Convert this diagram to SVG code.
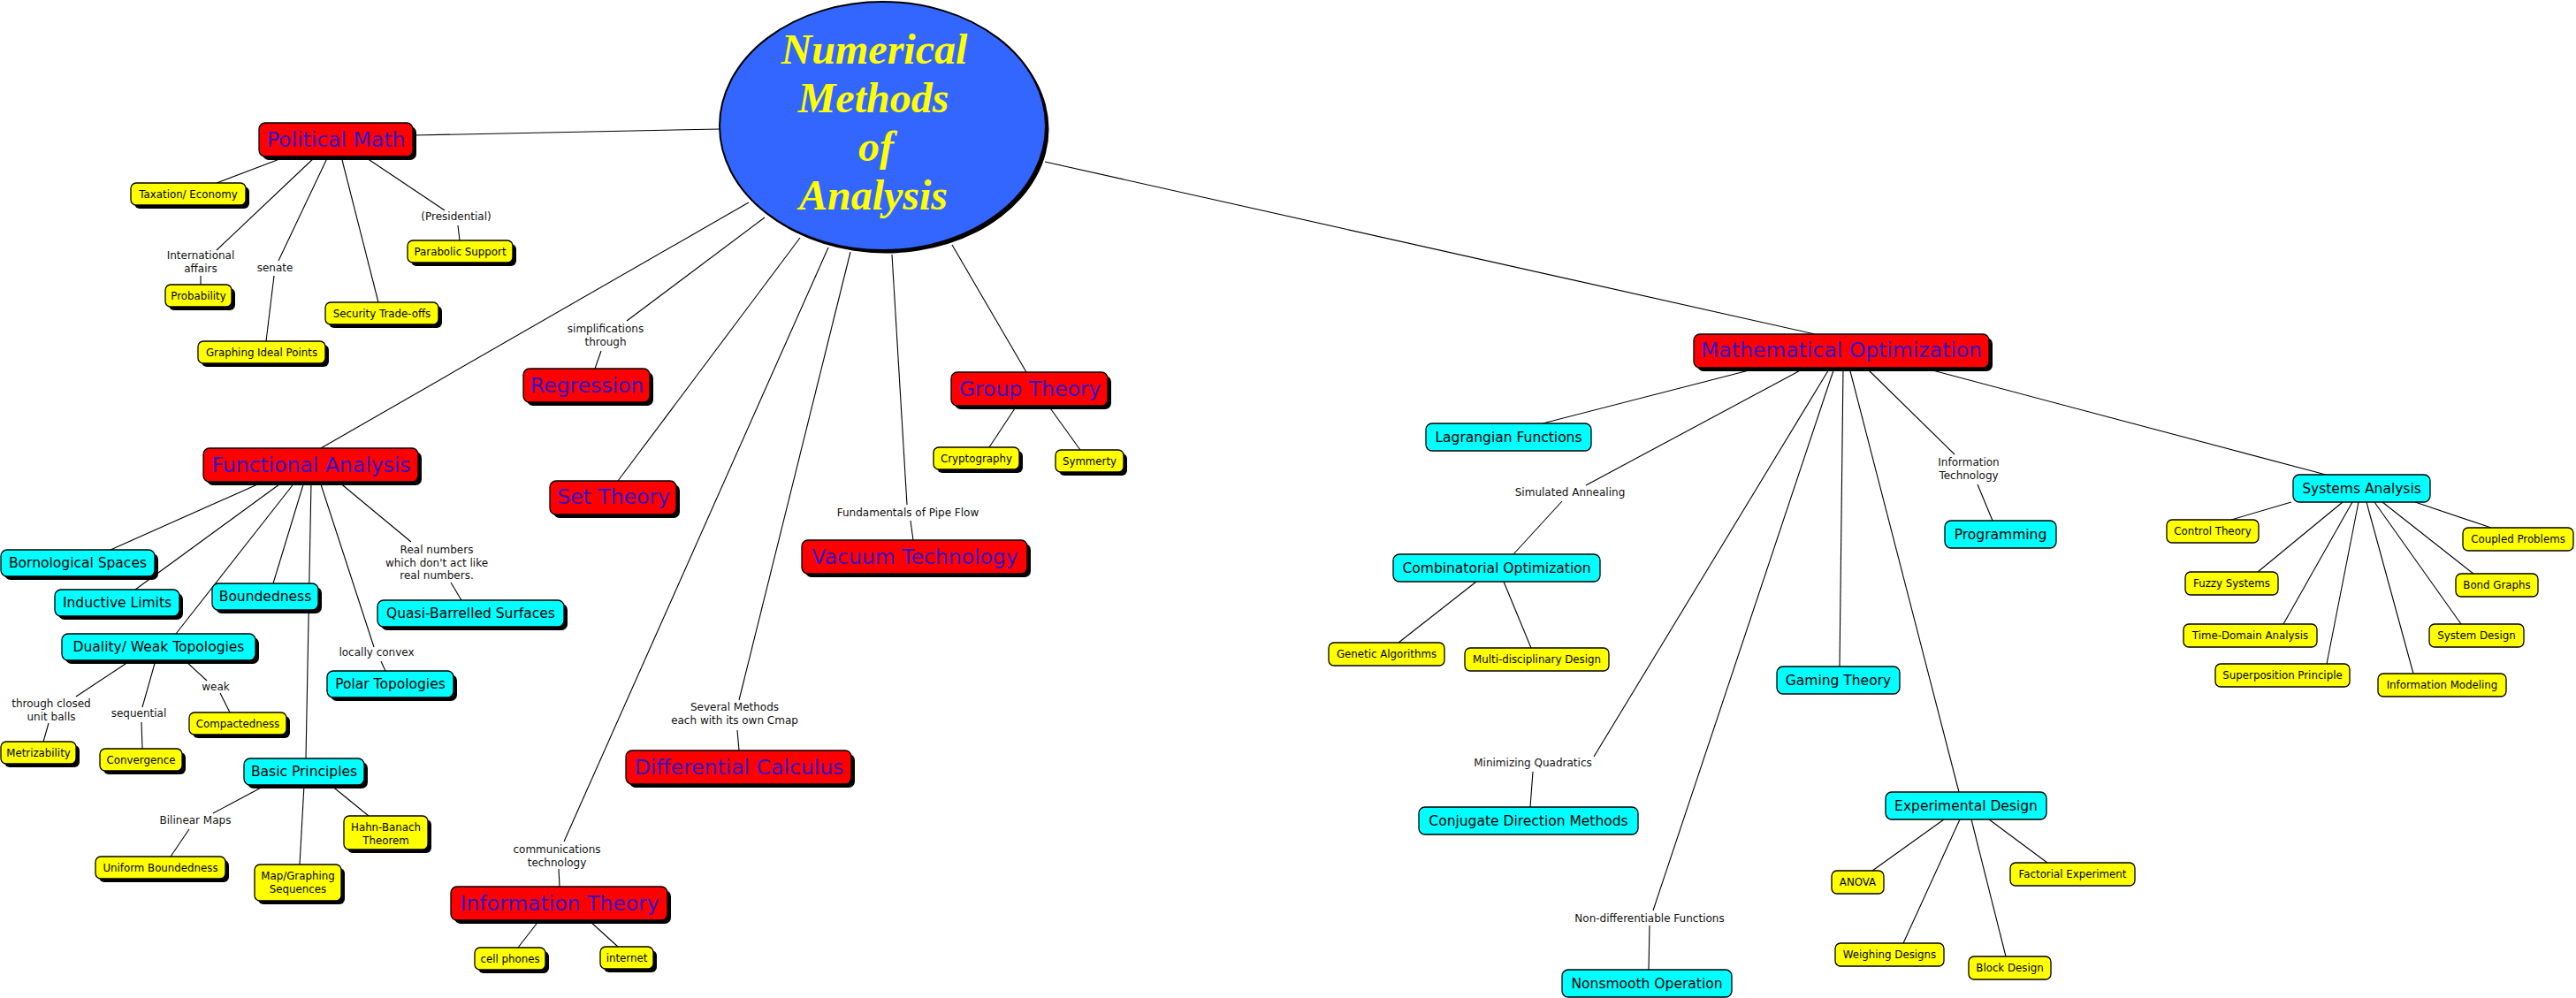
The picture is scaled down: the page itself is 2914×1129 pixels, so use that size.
<svg xmlns="http://www.w3.org/2000/svg" width="2914" height="1129" viewBox="0 0 2914 1129">
<style>
  .bg{fill:#fff}
  .sh{fill:#000}
  .r{fill:#ff0000;stroke:#000;stroke-width:1.3}
  .c{fill:#00ffff;stroke:#000;stroke-width:1.3}
  .y{fill:#ffff00;stroke:#000;stroke-width:1.3}
  text{font-family:"DejaVu Sans",Verdana,sans-serif;text-anchor:middle}
  .tr{font-size:23.5px;fill:#3311cc}
  .tc{font-size:15.5px;fill:#000}
  .ty{font-size:11.8px;fill:#000}
  .tl{font-size:12px;fill:#111}
  .tm{font-family:"Liberation Serif","Times New Roman",serif;font-weight:bold;font-style:italic;font-size:48px;fill:#ffff00}
  #connectors line{stroke:#000;stroke-width:1.1}
</style>
<rect class="bg" x="0" y="0" width="2914" height="1129"/>

<g id="connectors">
  <line x1="814" y1="146" x2="468" y2="153"/>
  <line x1="847" y1="229" x2="363" y2="507"/>
  <line x1="865" y1="246" x2="709" y2="363"/>
  <line x1="680" y1="397" x2="673" y2="417"/>
  <line x1="905" y1="269" x2="699" y2="544"/>
  <line x1="937" y1="280" x2="638" y2="952"/>
  <line x1="632" y1="983" x2="633" y2="1003"/>
  <line x1="962" y1="285" x2="836" y2="792"/>
  <line x1="834" y1="826" x2="836" y2="849"/>
  <line x1="1009" y1="288" x2="1026" y2="571"/>
  <line x1="1030" y1="589" x2="1033" y2="611"/>
  <line x1="1077" y1="277" x2="1161" y2="421"/>
  <line x1="1182" y1="183" x2="2053" y2="378"/>

  <line x1="324" y1="177" x2="245" y2="207"/>
  <line x1="357" y1="177" x2="245" y2="283"/>
  <line x1="227" y1="312" x2="227" y2="322"/>
  <line x1="371" y1="177" x2="315" y2="295"/>
  <line x1="310" y1="312" x2="301" y2="386"/>
  <line x1="386" y1="177" x2="428" y2="342"/>
  <line x1="412" y1="177" x2="503" y2="238"/>
  <line x1="518" y1="255" x2="520" y2="272"/>

  <line x1="1150" y1="459" x2="1119" y2="506"/>
  <line x1="1186" y1="459" x2="1222" y2="509"/>

  <line x1="298" y1="545" x2="125" y2="622"/>
  <line x1="320" y1="545" x2="153" y2="667"/>
  <line x1="334" y1="545" x2="199" y2="717"/>
  <line x1="344" y1="545" x2="309" y2="660"/>
  <line x1="352" y1="545" x2="346" y2="858"/>
  <line x1="362" y1="545" x2="423" y2="732"/>
  <line x1="431" y1="748" x2="436" y2="759"/>
  <line x1="383" y1="545" x2="465" y2="613"/>
  <line x1="510" y1="659" x2="522" y2="679"/>

  <line x1="148" y1="747" x2="86" y2="788"/>
  <line x1="55" y1="818" x2="49" y2="839"/>
  <line x1="176" y1="747" x2="161" y2="800"/>
  <line x1="160" y1="817" x2="161" y2="847"/>
  <line x1="209" y1="747" x2="234" y2="770"/>
  <line x1="249" y1="784" x2="260" y2="806"/>

  <line x1="301" y1="888" x2="241" y2="920"/>
  <line x1="214" y1="938" x2="193" y2="969"/>
  <line x1="344" y1="888" x2="339" y2="978"/>
  <line x1="374" y1="888" x2="417" y2="923"/>

  <line x1="610" y1="1041" x2="586" y2="1072"/>
  <line x1="666" y1="1041" x2="699" y2="1071"/>

  <line x1="1990" y1="416" x2="1745" y2="479"/>
  <line x1="2042" y1="416" x2="1794" y2="549"/>
  <line x1="1767" y1="567" x2="1712" y2="627"/>
  <line x1="1670" y1="658" x2="1582" y2="727"/>
  <line x1="1701" y1="658" x2="1732" y2="733"/>
  <line x1="2070" y1="416" x2="1803" y2="856"/>
  <line x1="1734" y1="873" x2="1731" y2="913"/>
  <line x1="2075" y1="416" x2="1870" y2="1030"/>
  <line x1="1866" y1="1047" x2="1865" y2="1097"/>
  <line x1="2085" y1="416" x2="2081" y2="754"/>
  <line x1="2092" y1="416" x2="2216" y2="896"/>
  <line x1="2111" y1="416" x2="2211" y2="514"/>
  <line x1="2237" y1="548" x2="2254" y2="589"/>
  <line x1="2175" y1="416" x2="2631" y2="537"/>

  <line x1="2199" y1="927" x2="2118" y2="985"/>
  <line x1="2217" y1="927" x2="2153" y2="1067"/>
  <line x1="2230" y1="927" x2="2269" y2="1082"/>
  <line x1="2250" y1="927" x2="2316" y2="976"/>

  <line x1="2592" y1="568" x2="2524" y2="588"/>
  <line x1="2650" y1="568" x2="2554" y2="647"/>
  <line x1="2661" y1="568" x2="2583" y2="706"/>
  <line x1="2668" y1="568" x2="2632" y2="751"/>
  <line x1="2677" y1="568" x2="2730" y2="762"/>
  <line x1="2686" y1="568" x2="2784" y2="706"/>
  <line x1="2695" y1="568" x2="2798" y2="649"/>
  <line x1="2732" y1="568" x2="2818" y2="597"/>
</g>

<g id="link-labels">
  <text class="tl" x="227" y="293">International</text>
  <text class="tl" x="227" y="308">affairs</text>
  <text class="tl" x="311" y="307">senate</text>
  <text class="tl" x="516" y="249">(Presidential)</text>
  <text class="tl" x="685" y="376">simplifications</text>
  <text class="tl" x="685" y="391">through</text>
  <text class="tl" x="494" y="626">Real numbers</text>
  <text class="tl" x="494" y="641">which don't act like</text>
  <text class="tl" x="494" y="655">real numbers.</text>
  <text class="tl" x="426" y="742">locally convex</text>
  <text class="tl" x="58" y="800">through closed</text>
  <text class="tl" x="58" y="815">unit balls</text>
  <text class="tl" x="157" y="811">sequential</text>
  <text class="tl" x="244" y="781">weak</text>
  <text class="tl" x="221" y="932">Bilinear Maps</text>
  <text class="tl" x="630" y="965">communications</text>
  <text class="tl" x="630" y="980">technology</text>
  <text class="tl" x="831" y="804">Several Methods</text>
  <text class="tl" x="831" y="819">each with its own Cmap</text>
  <text class="tl" x="1027" y="584">Fundamentals of Pipe Flow</text>
  <text class="tl" x="1776" y="561">Simulated Annealing</text>
  <text class="tl" x="2227" y="527">Information</text>
  <text class="tl" x="2227" y="542">Technology</text>
  <text class="tl" x="1734" y="867">Minimizing Quadratics</text>
  <text class="tl" x="1866" y="1043">Non-differentiable Functions</text>
</g>

<g id="n-center">
  <ellipse class="sh" cx="1002" cy="146" rx="184.5" ry="140.5"/>
  <ellipse cx="998.5" cy="142.5" rx="184.5" ry="140.5" fill="#3366ff" stroke="#000" stroke-width="2"/>
  <text class="tm" x="989" y="72">Numerical</text>
  <text class="tm" x="988" y="127">Methods</text>
  <text class="tm" x="991" y="182">of</text>
  <text class="tm" x="988" y="237">Analysis</text>
</g>

<!-- red nodes -->
<g id="n-political-math"><rect class="sh" x="297" y="143" width="174" height="38" rx="7"/><rect class="r" x="293" y="139" width="174" height="38" rx="7"/><text class="tr" x="380" y="166">Political Math</text></g>
<g id="n-functional-analysis"><rect class="sh" x="234" y="511" width="243" height="38" rx="7"/><rect class="r" x="230" y="507" width="243" height="38" rx="7"/><text class="tr" x="352" y="534">Functional Analysis</text></g>
<g id="n-regression"><rect class="sh" x="596" y="421" width="143" height="38" rx="7"/><rect class="r" x="592" y="417" width="143" height="38" rx="7"/><text class="tr" x="664" y="444">Regression</text></g>
<g id="n-set-theory"><rect class="sh" x="626" y="548" width="143" height="38" rx="7"/><rect class="r" x="622" y="544" width="143" height="38" rx="7"/><text class="tr" x="694" y="570">Set Theory</text></g>
<g id="n-group-theory"><rect class="sh" x="1080" y="425" width="177" height="38" rx="7"/><rect class="r" x="1076" y="421" width="177" height="38" rx="7"/><text class="tr" x="1165" y="448">Group Theory</text></g>
<g id="n-vacuum-technology"><rect class="sh" x="911" y="615" width="255" height="38" rx="7"/><rect class="r" x="907" y="611" width="255" height="38" rx="7"/><text class="tr" x="1035" y="638">Vacuum Technology</text></g>
<g id="n-differential-calculus"><rect class="sh" x="712" y="853" width="255" height="38" rx="7"/><rect class="r" x="708" y="849" width="255" height="38" rx="7"/><text class="tr" x="836" y="876">Differential Calculus</text></g>
<g id="n-information-theory"><rect class="sh" x="514" y="1007" width="245" height="38" rx="7"/><rect class="r" x="510" y="1003" width="245" height="38" rx="7"/><text class="tr" x="633" y="1030">Information Theory</text></g>
<g id="n-mathematical-optimization"><rect class="sh" x="1920" y="382" width="334" height="38" rx="7"/><rect class="r" x="1916" y="378" width="334" height="38" rx="7"/><text class="tr" x="2083" y="404">Mathematical Optimization</text></g>

<!-- cyan nodes with shadow -->
<g id="n-bornological-spaces"><rect class="sh" x="5" y="626" width="174" height="30" rx="7"/><rect class="c" x="1" y="622" width="174" height="30" rx="7"/><text class="tc" x="88" y="642">Bornological Spaces</text></g>
<g id="n-inductive-limits"><rect class="sh" x="66" y="671" width="141" height="30" rx="7"/><rect class="c" x="62" y="667" width="141" height="30" rx="7"/><text class="tc" x="132.5" y="687">Inductive Limits</text></g>
<g id="n-boundedness"><rect class="sh" x="244" y="664" width="120" height="30" rx="7"/><rect class="c" x="240" y="660" width="120" height="30" rx="7"/><text class="tc" x="300" y="680">Boundedness</text></g>
<g id="n-duality"><rect class="sh" x="74" y="721" width="219" height="30" rx="7"/><rect class="c" x="70" y="717" width="219" height="30" rx="7"/><text class="tc" x="179.5" y="737">Duality/ Weak Topologies</text></g>
<g id="n-quasi-barrelled"><rect class="sh" x="431" y="683" width="211" height="30" rx="7"/><rect class="c" x="427" y="679" width="211" height="30" rx="7"/><text class="tc" x="532.5" y="699">Quasi-Barrelled Surfaces</text></g>
<g id="n-polar-topologies"><rect class="sh" x="374" y="763" width="143" height="30" rx="7"/><rect class="c" x="370" y="759" width="143" height="30" rx="7"/><text class="tc" x="441.5" y="779">Polar Topologies</text></g>
<g id="n-basic-principles"><rect class="sh" x="280" y="862" width="136" height="30" rx="7"/><rect class="c" x="276" y="858" width="136" height="30" rx="7"/><text class="tc" x="344" y="878">Basic Principles</text></g>

<!-- cyan nodes without shadow -->
<g id="n-lagrangian"><rect class="c" x="1613" y="479" width="187" height="31" rx="7"/><text class="tc" x="1706.5" y="500">Lagrangian Functions</text></g>
<g id="n-combinatorial"><rect class="c" x="1576" y="627" width="234" height="31" rx="7"/><text class="tc" x="1693" y="648">Combinatorial Optimization</text></g>
<g id="n-programming"><rect class="c" x="2200" y="589" width="126" height="31" rx="7"/><text class="tc" x="2263" y="610">Programming</text></g>
<g id="n-gaming-theory"><rect class="c" x="2010" y="754" width="139" height="31" rx="7"/><text class="tc" x="2079.5" y="775">Gaming Theory</text></g>
<g id="n-conjugate"><rect class="c" x="1605" y="913" width="248" height="31" rx="7"/><text class="tc" x="1729" y="934">Conjugate Direction Methods</text></g>
<g id="n-nonsmooth"><rect class="c" x="1767" y="1097" width="192" height="31" rx="7"/><text class="tc" x="1863" y="1118">Nonsmooth Operation</text></g>
<g id="n-experimental-design"><rect class="c" x="2133" y="896" width="182" height="31" rx="7"/><text class="tc" x="2224" y="917">Experimental Design</text></g>
<g id="n-systems-analysis"><rect class="c" x="2594" y="537" width="155" height="31" rx="7"/><text class="tc" x="2671.5" y="558">Systems Analysis</text></g>

<!-- yellow nodes with shadow -->
<g id="n-taxation"><rect class="sh" x="152" y="211" width="130" height="25" rx="6"/><rect class="y" x="148" y="207" width="130" height="25" rx="6"/><text class="ty" x="213" y="224">Taxation/ Economy</text></g>
<g id="n-probability"><rect class="sh" x="191" y="326" width="75" height="25" rx="6"/><rect class="y" x="187" y="322" width="75" height="25" rx="6"/><text class="ty" x="224.5" y="339">Probability</text></g>
<g id="n-graphing-ideal"><rect class="sh" x="228" y="390" width="144" height="25" rx="6"/><rect class="y" x="224" y="386" width="144" height="25" rx="6"/><text class="ty" x="296" y="403">Graphing Ideal Points</text></g>
<g id="n-security"><rect class="sh" x="372" y="346" width="128" height="25" rx="6"/><rect class="y" x="368" y="342" width="128" height="25" rx="6"/><text class="ty" x="432" y="359">Security Trade-offs</text></g>
<g id="n-parabolic"><rect class="sh" x="465" y="276" width="119" height="25" rx="6"/><rect class="y" x="461" y="272" width="119" height="25" rx="6"/><text class="ty" x="520.5" y="289">Parabolic Support</text></g>
<g id="n-metrizability"><rect class="sh" x="5" y="843" width="85" height="25" rx="6"/><rect class="y" x="1" y="839" width="85" height="25" rx="6"/><text class="ty" x="43.5" y="856">Metrizability</text></g>
<g id="n-convergence"><rect class="sh" x="117" y="851" width="93" height="25" rx="6"/><rect class="y" x="113" y="847" width="93" height="25" rx="6"/><text class="ty" x="159.5" y="864">Convergence</text></g>
<g id="n-compactedness"><rect class="sh" x="218" y="810" width="110" height="25" rx="6"/><rect class="y" x="214" y="806" width="110" height="25" rx="6"/><text class="ty" x="269" y="823">Compactedness</text></g>
<g id="n-uniform-boundedness"><rect class="sh" x="112" y="973" width="147" height="25" rx="6"/><rect class="y" x="108" y="969" width="147" height="25" rx="6"/><text class="ty" x="181.5" y="986">Uniform Boundedness</text></g>
<g id="n-map-graphing"><rect class="sh" x="292" y="982" width="98" height="41" rx="6"/><rect class="y" x="288" y="978" width="98" height="41" rx="6"/><text class="ty" x="337" y="995">Map/Graphing</text><text class="ty" x="337" y="1010">Sequences</text></g>
<g id="n-hahn-banach"><rect class="sh" x="393" y="927" width="95" height="38" rx="6"/><rect class="y" x="389" y="923" width="95" height="38" rx="6"/><text class="ty" x="436.5" y="940">Hahn-Banach</text><text class="ty" x="436.5" y="955">Theorem</text></g>
<g id="n-cell-phones"><rect class="sh" x="541" y="1076" width="80" height="25" rx="6"/><rect class="y" x="537" y="1072" width="80" height="25" rx="6"/><text class="ty" x="577" y="1089">cell phones</text></g>
<g id="n-internet"><rect class="sh" x="683" y="1075" width="60" height="25" rx="6"/><rect class="y" x="679" y="1071" width="60" height="25" rx="6"/><text class="ty" x="709" y="1088">internet</text></g>
<g id="n-cryptography"><rect class="sh" x="1060" y="510" width="97" height="25" rx="6"/><rect class="y" x="1056" y="506" width="97" height="25" rx="6"/><text class="ty" x="1104.5" y="523">Cryptography</text></g>
<g id="n-symmerty"><rect class="sh" x="1198" y="513" width="77" height="25" rx="6"/><rect class="y" x="1194" y="509" width="77" height="25" rx="6"/><text class="ty" x="1232.5" y="526">Symmerty</text></g>

<!-- yellow nodes without shadow -->
<g id="n-genetic"><rect class="y" x="1503" y="727" width="131" height="26" rx="6"/><text class="ty" x="1568.5" y="744">Genetic Algorithms</text></g>
<g id="n-multidisciplinary"><rect class="y" x="1657" y="733" width="163" height="26" rx="6"/><text class="ty" x="1738.5" y="750">Multi-disciplinary Design</text></g>
<g id="n-control-theory"><rect class="y" x="2451" y="588" width="104" height="26" rx="6"/><text class="ty" x="2503" y="605">Control Theory</text></g>
<g id="n-fuzzy"><rect class="y" x="2472" y="647" width="105" height="26" rx="6"/><text class="ty" x="2524.5" y="664">Fuzzy Systems</text></g>
<g id="n-time-domain"><rect class="y" x="2470" y="706" width="151" height="26" rx="6"/><text class="ty" x="2545.5" y="723">Time-Domain Analysis</text></g>
<g id="n-superposition"><rect class="y" x="2506" y="751" width="152" height="26" rx="6"/><text class="ty" x="2582" y="768">Superposition Principle</text></g>
<g id="n-info-modeling"><rect class="y" x="2690" y="762" width="145" height="26" rx="6"/><text class="ty" x="2762.5" y="779">Information Modeling</text></g>
<g id="n-system-design"><rect class="y" x="2748" y="706" width="107" height="26" rx="6"/><text class="ty" x="2801.5" y="723">System Design</text></g>
<g id="n-bond-graphs"><rect class="y" x="2778" y="649" width="93" height="26" rx="6"/><text class="ty" x="2824.5" y="666">Bond Graphs</text></g>
<g id="n-coupled"><rect class="y" x="2786" y="597" width="125" height="26" rx="6"/><text class="ty" x="2848.5" y="614">Coupled Problems</text></g>
<g id="n-anova"><rect class="y" x="2072" y="985" width="59" height="26" rx="6"/><text class="ty" x="2101.5" y="1002">ANOVA</text></g>
<g id="n-weighing"><rect class="y" x="2076" y="1067" width="123" height="26" rx="6"/><text class="ty" x="2137.5" y="1084">Weighing Designs</text></g>
<g id="n-block-design"><rect class="y" x="2227" y="1082" width="93" height="26" rx="6"/><text class="ty" x="2273.5" y="1099">Block Design</text></g>
<g id="n-factorial"><rect class="y" x="2274" y="976" width="141" height="26" rx="6"/><text class="ty" x="2344.5" y="993">Factorial Experiment</text></g>
</svg>
